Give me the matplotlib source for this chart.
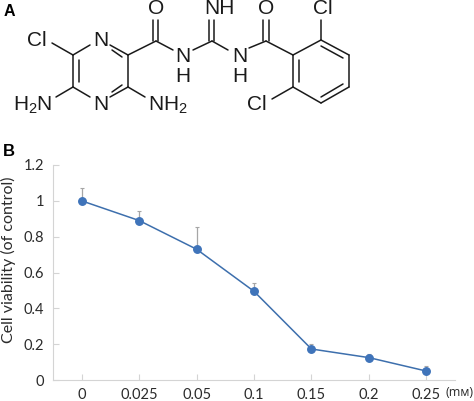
import matplotlib
matplotlib.use("Agg")
import matplotlib.pyplot as plt
import numpy as np

# chart values
doses = ["0", "0.025", "0.05", "0.1", "0.15", "0.2", "0.25"]
viability = [1.0, 0.89, 0.73, 0.495, 0.173, 0.125, 0.05]
err_up = [0.07, 0.055, 0.122, 0.047, 0.027, 0.02, 0.028]
yticks = [0, 0.2, 0.4, 0.6, 0.8, 1, 1.2]
ytick_labels = ["0", "0.2", "0.4", "0.6", "0.8", "1", "1.2"]

# structure in panel A, image pixels
single_bonds = [
    (52, 43, 73, 55), (73, 55, 90, 45), (110, 45, 128, 55), (128, 55, 128, 87),
    (128, 87, 110, 97), (90, 97, 73, 87), (73, 87, 73, 55), (73, 87, 56, 97),
    (128, 87, 145, 97), (128, 55, 156, 41), (156, 41, 173, 50), (193, 50, 212, 41),
    (212, 41, 228, 50), (249, 48, 266, 41), (266, 41, 293, 55), (293, 55, 321, 40),
    (321, 40, 349, 55), (349, 55, 349, 87), (349, 87, 321, 103), (321, 103, 293, 87),
    (293, 87, 293, 55), (321, 40, 321, 20), (293, 87, 272, 99),
]
inner_bonds = [
    (112, 50, 122, 57), (79, 60, 79, 82), (112, 92, 122, 85), (153, 41, 153, 20),
    (158, 41, 158, 20), (209, 41, 209, 20), (214, 41, 214, 20), (263, 41, 263, 20),
    (269, 41, 269, 20), (299, 60, 299, 82), (321, 46, 343, 58), (321, 97, 343, 84),
]
atoms = [
    ("Cl", 37, 41), ("N", 100.5, 41), ("N", 100.5, 105), ("O", 156, 8),
    ("N", 183, 57), ("H", 183, 76), ("N", 240, 57), ("H", 240, 76),
    ("NH", 219, 8), ("O", 266, 8), ("Cl", 323, 8), ("Cl", 257, 104),
    ("H$_{2}$N", 33, 105), ("NH$_{2}$", 168, 105),
]

W, H = 474, 401
grey = "#d4d4d4"
blue = "#3f74ba"
txt = "#2b2b2b"

fig = plt.figure(figsize=(W / 100, H / 100), dpi=100)

# panel A drawn in pixel coordinates
bg = fig.add_axes([0, 0, 1, 1])
bg.set_xlim(0, W)
bg.set_ylim(H, 0)
bg.axis("off")
for x0, y0, x1, y1 in single_bonds + inner_bonds:
    bg.plot([x0, x1], [y0, y1], color="#1a1a1a", lw=1.1, solid_capstyle="round")
plt.rcParams["mathtext.fontset"] = "custom"
plt.rcParams["mathtext.rm"] = "Liberation Sans"
plt.rcParams["mathtext.default"] = "regular"
for label, x, y in atoms:
    bg.text(x, y, label, ha="center", va="center", fontsize=15,
            family="Liberation Sans", color="#1a1a1a")
bg.text(4, 12, "A", ha="left", va="center", fontsize=11.5, fontweight="bold", family="Liberation Sans")
bg.text(3, 151, "B", ha="left", va="center", fontsize=12, fontweight="bold", family="Liberation Sans")

# panel B
ax = fig.add_axes([53 / W, 1 - 380 / H, (455 - 53) / W, (380 - 165) / H])
pos = np.arange(len(doses))
ax.errorbar(pos, viability, yerr=[np.zeros(len(doses)), err_up], fmt="none",
            ecolor="#a6a6a6", elinewidth=0.9, capsize=1.2, capthick=0.8, zorder=2)
ax.plot(pos, viability, "-o", color="#3d6fad", lw=1.1, ms=5.4, mfc=blue, mec=blue, zorder=3)
ax.set_xlim(-0.5, 6.5)
ax.set_ylim(0, 1.2)
ax.set_xticks(pos)
ax.set_xticklabels(doses)
ax.set_yticks(yticks)
ax.set_yticklabels(ytick_labels)
ax.spines["top"].set_visible(False)
ax.spines["right"].set_visible(False)
ax.spines["left"].set_color(grey)
ax.spines["bottom"].set_color(grey)
ax.tick_params(axis="both", color=grey, labelcolor=txt, labelsize=10.5, direction="in", length=4)
ax.tick_params(axis="x", pad=6)
ax.tick_params(axis="y", pad=6.5)
for t in ax.get_xticklabels() + ax.get_yticklabels():
    t.set_family("Lato")
bg.text(8, 260, "Cell viability (of control)", rotation=90, ha="center", va="center",
        fontsize=11.5, family="Lato", color=txt)
bg.text(459.5, 392, "(m\u043c)", ha="center", va="center", fontsize=9, family="Open Sans", color=txt)

fig.savefig("out.png", dpi=100)
